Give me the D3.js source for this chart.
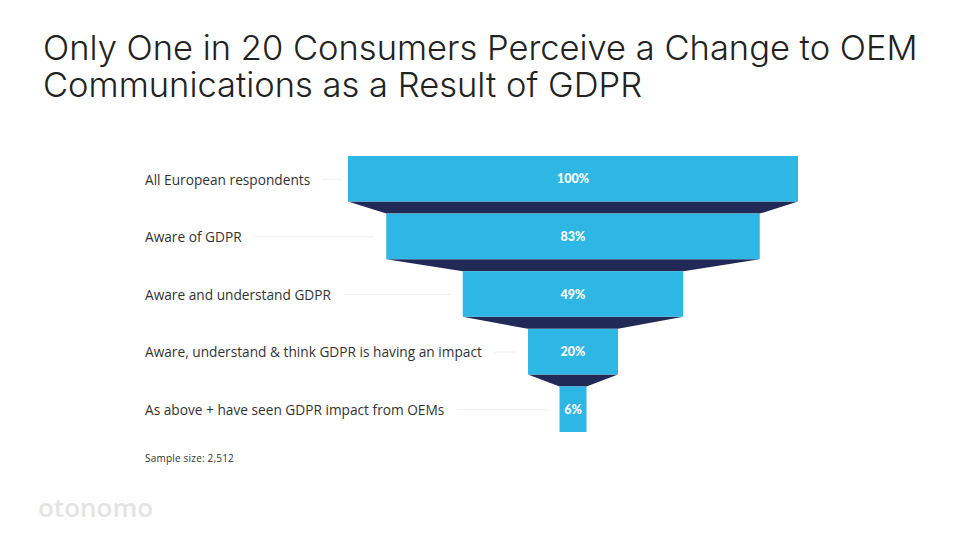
<!DOCTYPE html>
<html><head><meta charset="utf-8">
<script src="https://cdn.jsdelivr.net/npm/d3@7"></script>
<style>body{margin:0;background:#fff}svg{display:block}</style>
</head><body>
<svg id="c" width="960" height="540"></svg>
<script>
const titleLines = ["Only One in 20 Consumers Perceive a Change to OEM", "Communications as a Result of GDPR"];
const categories = ["All European respondents", "Aware of GDPR", "Aware and understand GDPR", "Aware, understand & think GDPR is having an impact", "As above + have seen GDPR impact from OEMs"];
const values = [100, 83, 49, 20, 6];
const valueLabels = ["100%", "83%", "49%", "20%", "6%"];
const note = "Sample size: 2,512";
const brand = "otonomo";

const svg = d3.select("#c");
const font = "'Open Sans', sans-serif";
const cx = 573;
const w = d3.scaleLinear().domain([0, 100]).range([0, 450]);
const y = d3.scaleBand().domain(categories).range([156, 432]).paddingInner(0.21).paddingOuter(0);

svg.append("g").selectAll("text").data(titleLines).join("text")
  .attr("x", 43).attr("y", (d, i) => 60 + i * 37)
  .attr("font-family", "Inter, sans-serif").attr("font-weight", 300)
  .attr("font-size", 34.5).attr("fill", "#222").text(d => d);

// connectors
const conn = d3.range(values.length - 1).map(i => ({a: values[i], b: values[i + 1], y0: y(categories[i]) + y.bandwidth(), y1: y(categories[i + 1])}));
svg.append("g").selectAll("path").data(conn).join("path")
  .attr("d", d => `M${cx - w(d.a) / 2},${d.y0}L${cx + w(d.a) / 2},${d.y0}L${cx + w(d.b) / 2},${d.y1}L${cx - w(d.b) / 2},${d.y1}Z`)
  .attr("fill", "#212a56");

svg.append("g").selectAll("rect").data(values).join("rect")
  .attr("x", d => cx - w(d) / 2).attr("width", d => w(d))
  .attr("y", (d, i) => y(categories[i])).attr("height", y.bandwidth())
  .attr("fill", "#2eb6e4");

svg.append("g").selectAll("text").data(valueLabels).join("text")
  .attr("x", cx).attr("y", (d, i) => y(categories[i]) + y.bandwidth() / 2 + 4.6)
  .attr("text-anchor", "middle").attr("font-family", "Lato, sans-serif").attr("font-weight", 900)
  .attr("font-size", 12.5).attr("fill", "#fff").text(d => d);

const lab = svg.append("g").selectAll("g").data(categories).join("g");
lab.append("text").attr("x", 145).attr("y", d => y(d) + y.bandwidth() / 2 + 5.8)
  .attr("font-family", font).attr("font-size", 13.7).attr("fill", "#333").text(d => d)
  .each(function(d, i) {
    const bb = this.getBBox();
    const x0 = bb.x + bb.width + 12;
    const x1 = cx - w(values[i]) / 2 - 12;
    d3.select(this.parentNode).append("line")
      .attr("x1", x0).attr("x2", Math.max(x0 + 20, x1))
      .attr("y1", y(d) + y.bandwidth() / 2 + 0.5).attr("y2", y(d) + y.bandwidth() / 2 + 0.5)
      .attr("stroke", "#eeeeee").attr("stroke-width", 1);
  });

svg.append("text").attr("x", 145).attr("y", 462).attr("font-family", font)
  .attr("font-size", 10).attr("fill", "#333").attr("letter-spacing", 0.2).text(note);

svg.append("text").attr("x", 38).attr("y", 517).attr("font-family", "'Open Sans', sans-serif")
  .attr("font-size", 26).attr("font-weight", 600).attr("fill", "#e4e4e4").text(brand);
</script>
</body></html>
